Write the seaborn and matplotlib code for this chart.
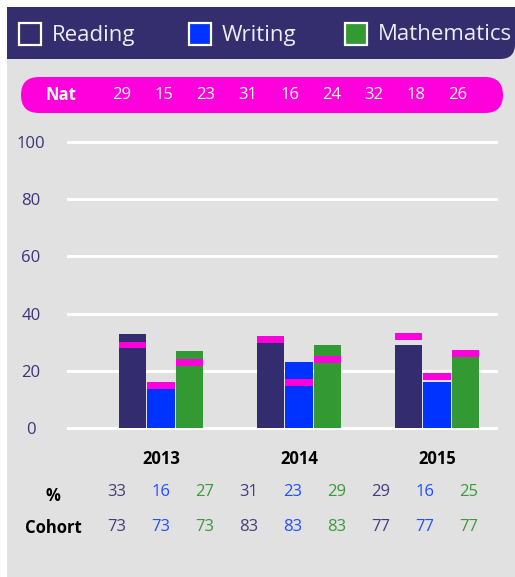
import numpy as np
import pandas as pd
import matplotlib
matplotlib.use("Agg")
import matplotlib.pyplot as plt
import seaborn as sns
from matplotlib.patches import Rectangle, FancyBboxPatch, PathPatch
from matplotlib.path import Path
from matplotlib.transforms import IdentityTransform

# ---------------- data ----------------
years = ["2013", "2014", "2015"]
subjects = ["Reading", "Writing", "Mathematics"]
reading = [33, 31, 29]
writing = [16, 23, 16]
maths = [27, 29, 25]
nat_reading = [29, 31, 32]
nat_writing = [15, 16, 18]
nat_maths = [23, 24, 26]
cohort = [73, 83, 77]
y_ticks = [0, 20, 40, 60, 80, 100]

# ---------------- style ----------------
W, H = 515, 577
C_READ = "#332C6E"
C_WRITE = "#0033FF"
C_MATH = "#339933"
C_NAT = "#FF00DD"
C_BG = "#E1E1E1"
C_HEAD = "#342D6E"
T_READ = "#453C7E"
T_WRITE = "#1F4FFF"
T_MATH = "#3A9A3A"
palette = {"Reading": C_READ, "Writing": C_WRITE, "Mathematics": C_MATH}
text_cols = [T_READ, T_WRITE, T_MATH]

sns.set_style("white")
plt.rcParams["font.family"] = ["Open Sans", "DejaVu Sans"]

fig = plt.figure(figsize=(W / 100, H / 100), dpi=100, facecolor="white")
ident = IdentityTransform()

def fx(x):
    return x / W

def fy(y):
    return 1 - y / H

# background panel
fig.add_artist(Rectangle((7, 0), W - 7, H - 7, transform=ident,
                         facecolor=C_BG, edgecolor="none", zorder=-10))

# header with rounded bottom-right corner
r = 15
top, bot = H - 7, H - 59
verts = [(7, top), (W, top), (W, bot + r), (W, bot), (W - r, bot), (7, bot), (7, top)]
codes = [Path.MOVETO, Path.LINETO, Path.LINETO, Path.CURVE3, Path.CURVE3,
         Path.LINETO, Path.CLOSEPOLY]
fig.add_artist(PathPatch(Path(verts, codes), transform=ident,
                         facecolor=C_HEAD, edgecolor="none", zorder=-5))

# legend in header
leg_sq_x = [19, 189, 345]
leg_txt_x = [52, 222, 378]
for i, s in enumerate(subjects):
    fig.add_artist(Rectangle((leg_sq_x[i], H - 45), 22, 22, transform=ident,
                             facecolor=palette[s], edgecolor="white",
                             linewidth=1.6, zorder=2))
    fig.text(fx(leg_txt_x[i]), fy(35), s, fontsize=16, color="#EDEDF5",
             ha="left", va="center")

# national pill
fig.add_artist(FancyBboxPatch((21, H - 113), 482, 36,
                              boxstyle="round,pad=0,rounding_size=18",
                              transform=ident, facecolor=C_NAT,
                              edgecolor="none", zorder=1))
fig.text(fx(61), fy(95), "Nat", fontsize=12, fontweight="bold",
         color="white", ha="center", va="center")
nat_by_subject = [nat_reading, nat_writing, nat_maths]
nat_flat = [nat_by_subject[s][y] for y in range(3) for s in range(3)]
for k, v in enumerate(nat_flat):
    fig.text(fx(122 + 42 * k), fy(95), str(v), fontsize=12, color="white",
             ha="center", va="center")

# ---------------- bars ----------------
df = pd.DataFrame({
    "Year": np.repeat(years, 3),
    "Subject": subjects * 3,
    "Value": [v for trio in zip(reading, writing, maths) for v in trio],
})

px_per_unit = (428 - 142) / 100
ax_bottom = 428 + 2 * px_per_unit
ax_top = 142 - 2 * px_per_unit
ax = fig.add_axes([fx(67), fy(ax_bottom), fx(498 - 67), (ax_bottom - ax_top) / H])
ax.set_facecolor("none")

sns.barplot(data=df, x="Year", y="Value", hue="Subject", order=years,
            hue_order=subjects, palette=palette, saturation=1, width=0.62,
            gap=0.05, legend=False, ax=ax, linewidth=0, edgecolor="none",
            zorder=2)

# national markers on each bar
bar_containers = list(ax.containers)
for i, cont in enumerate(bar_containers):
    for j, bar in enumerate(cont):
        nat = nat_by_subject[i][j]
        ax.bar(bar.get_x() + bar.get_width() / 2, 2.4, bottom=nat - 1.2,
               width=bar.get_width(), color=C_NAT, linewidth=0, zorder=3)

x0 = 161
ax.set_xlim((67 - x0) / 138, (498 - x0) / 138)
ax.set_ylim(-2, 102)
ax.set_yticks(y_ticks)
ax.set_yticklabels([str(t) for t in y_ticks], fontsize=12, color="#3B3477")
for lab in ax.get_yticklabels():
    lab.set_horizontalalignment("center")
ax.tick_params(axis="y", length=0, pad=26)
ax.tick_params(axis="x", length=0, pad=12)
ax.set_xticks(range(3))
ax.set_xticklabels(years, fontsize=12, fontweight="bold", color="black")
ax.set_xlabel("")
ax.set_ylabel("")
for sp in ax.spines.values():
    sp.set_visible(False)
ax.grid(False)
for t in y_ticks:
    ax.axhline(t, color="white", linewidth=2.1, zorder=1)

# ---------------- table ----------------
fig.text(fx(53), fy(496), "%", fontsize=12, fontweight="bold", color="black",
         ha="center", va="center")
fig.text(fx(53), fy(528), "Cohort", fontsize=12, fontweight="bold",
         color="black", ha="center", va="center")
subj_vals = [reading, writing, maths]
for y in range(3):
    for s in range(3):
        k = y * 3 + s
        xp = 117 + 44 * k
        fig.text(fx(xp), fy(492), str(subj_vals[s][y]), fontsize=12,
                 color=text_cols[s], ha="center", va="center")
        fig.text(fx(xp), fy(527), str(cohort[y]), fontsize=12,
                 color=text_cols[s], ha="center", va="center")

fig.savefig("out.png", dpi=100, facecolor="white")
